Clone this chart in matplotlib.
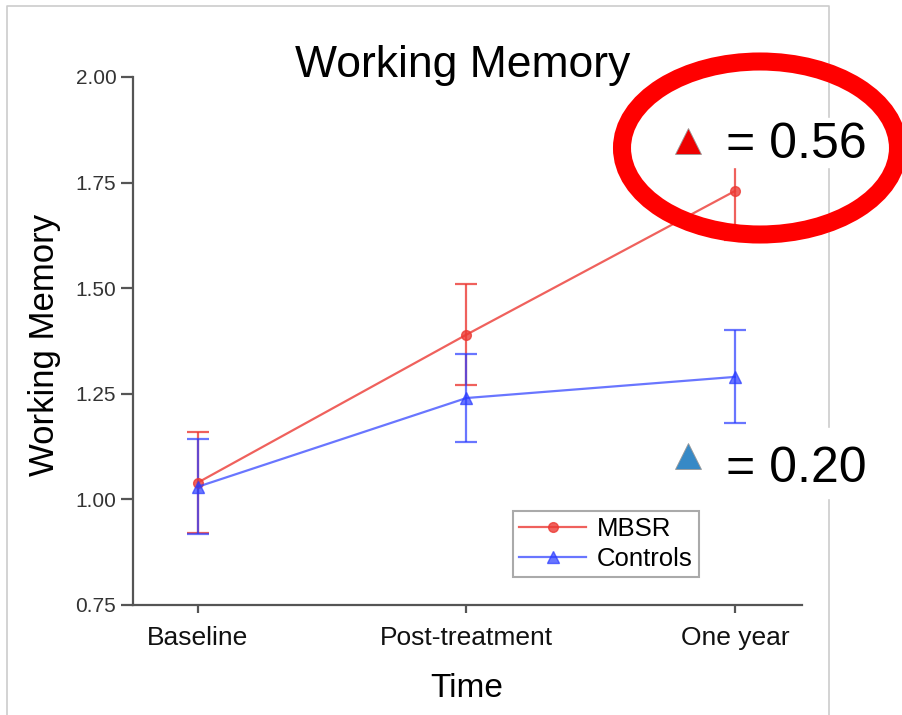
import matplotlib
matplotlib.use("Agg")
import matplotlib.pyplot as plt
from matplotlib.patches import Ellipse, Rectangle
from matplotlib.lines import Line2D

plt.rcParams['font.family'] = ['Liberation Sans', 'DejaVu Sans']

# group means and error bars at each time point
time_labels = ["Baseline", "Post-treatment", "One year"]
mbsr_mean = [1.04, 1.39, 1.73]
mbsr_err = [0.12, 0.12, 0.115]
ctrl_mean = [1.03, 1.24, 1.29]
ctrl_err = [0.113, 0.105, 0.11]

# effect sizes shown at the right
effect_labels = ["MBSR", "Controls"]
effect_sizes = [0.56, 0.20]

W, H = 903, 715
fig = plt.figure(figsize=(W / 100, H / 100), dpi=100)

def px(x, y):
    # pixel position -> figure fraction
    return x / W, 1 - y / H

# overlay in pixel coordinates, used for the frame and call-outs
ov = fig.add_axes([0, 0, 1, 1], facecolor='none')
ov.set_xlim(0, W)
ov.set_ylim(H, 0)
ov.axis('off')
ov.set_zorder(0)

ax = fig.add_axes([133 / W, 1 - 605 / H, (802 - 133) / W, (605 - 77) / H])
ax.set_zorder(1)
ax.patch.set_alpha(0)

x = list(range(len(time_labels)))
red = '#ec3a34'
blue = '#2a3cff'

ax.errorbar(x, mbsr_mean, yerr=mbsr_err, color=red, alpha=0.8, lw=1.6,
            marker='o', ms=7, capsize=8, elinewidth=1.6, capthick=1.6, zorder=3)
ax.errorbar(x, ctrl_mean, yerr=ctrl_err, color=blue, alpha=0.7, lw=1.6,
            marker='^', ms=8, capsize=8, elinewidth=1.6, capthick=1.6, zorder=3)

ax.set_xlim(-0.242, 2.25)
ax.set_ylim(0.75, 2.00)
ax.set_xticks(x)
ax.set_xticklabels(time_labels, fontsize=19)
ax.set_yticks([0.75, 1.00, 1.25, 1.50, 1.75, 2.00])
ax.set_yticklabels(["0.75", "1.00", "1.25", "1.50", "1.75", "2.00"], fontsize=15)
for side in ['top', 'right']:
    ax.spines[side].set_visible(False)
for side in ['left', 'bottom']:
    ax.spines[side].set_color('#555555')
    ax.spines[side].set_linewidth(1.6)
ax.tick_params(axis='y', length=9, width=1.6, color='#555555', pad=3, labelcolor='#333333')
ax.tick_params(axis='x', length=6, width=1.6, color='#555555', pad=9, labelcolor='#111111')

handles = [
    Line2D([], [], color=red, alpha=0.8, lw=1.6, marker='o', ms=7),
    Line2D([], [], color=blue, alpha=0.7, lw=1.6, marker='^', ms=8),
]
leg = ax.legend(handles, effect_labels, loc='upper left', bbox_to_anchor=px(513, 511),
                bbox_transform=fig.transFigure, fontsize=18.5, fancybox=False,
                edgecolor='#aaaaaa', framealpha=1, handlelength=2.6, handletextpad=0.4,
                borderpad=0.25, labelspacing=0.2, borderaxespad=0)
leg.get_frame().set_linewidth(1.5)

fig.text(*px(463, 77), "Working Memory", ha='center', va='baseline', fontsize=32)
fig.text(*px(45, 345), "Working Memory", ha='center', va='center', rotation=90, fontsize=25)
fig.text(*px(467, 697), "Time", ha='center', va='baseline', fontsize=24)

# light frame around the panel
frame_kw = dict(color='#cccccc', lw=1.2, zorder=0)
ov.plot([7, 7, 829, 829], [H, 6, 6, H], **frame_kw)

# effect size call-outs, on white boxes above the chart
ov2 = fig.add_axes([0, 0, 1, 1], facecolor='none')
ov2.set_xlim(0, W)
ov2.set_ylim(H, 0)
ov2.axis('off')
ov2.set_zorder(2)

ov2.add_patch(Rectangle((662, 118), 220, 49, color='white', zorder=1))
ov2.add_patch(Rectangle((662, 428), 220, 70, color='white', zorder=1))

tri_colors = ['#ee0000', '#3789c6']
tri_y = [141, 456]
text_base = [158, 482]
for d, c, ty, tb in zip(effect_sizes, tri_colors, tri_y, text_base):
    ov2.plot([688], [ty], marker='^', ms=19, color=c, mec='#999999', mew=0.6, zorder=3)
    ov2.text(726, tb, f"= {d:.2f}", fontsize=36, ha='left', va='baseline', zorder=3)

ov2.add_patch(Ellipse((760, 148), 276, 173, fill=False, ec='#ff0000', lw=13, zorder=4))

fig.savefig("out.png", dpi=100)
